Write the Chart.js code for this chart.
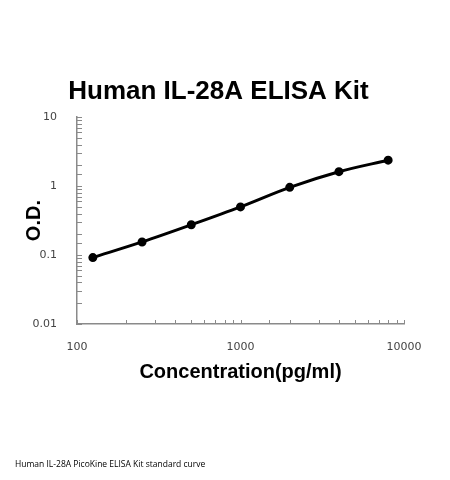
<!DOCTYPE html>
<html>
<head>
<meta charset="utf-8">
<script src="https://cdn.jsdelivr.net/npm/chart.js@4"></script>
<style>
  html, body { margin: 0; padding: 0; background: #fff; }
  #wrap { position: relative; width: 450px; height: 480px; }
  #note {
    position: absolute; left: 15px; top: 458px;
    font-family: "Open Sans", sans-serif; font-size: 8.5px; color: #000;
    white-space: nowrap;
  }
</style>
</head>
<body>
<div id="wrap">
  <canvas id="curve" width="450" height="480"></canvas>
  <div id="note">Human IL-28A PicoKine ELISA Kit standard curve</div>
</div>
<script>
// standard curve points
const concentrations = [125, 250, 500, 1000, 2000, 4000, 8000];
const odValues = [0.092, 0.155, 0.275, 0.50, 0.96, 1.62, 2.38];

// labelled ticks
const xTickLabels = [100, 1000, 10000];
const yTickLabels = [0.01, 0.1, 1, 10];

const isLabelled = (v, list) => list.some((t) => Math.abs(Math.log10(v) - Math.log10(t)) < 1e-6);

const tickFont = { family: "DejaVu Sans", size: 11 };
const axisColor = "#8a8a8a";

// tick marks point into the plot, so draw them by hand
const innerTicks = {
    id: "innerTicks",
    afterDraw(chart) {
        const ctx = chart.ctx;
        const xs = chart.scales.x;
        const ys = chart.scales.y;
        ctx.save();
        ctx.strokeStyle = axisColor;
        ctx.lineWidth = 1;
        ctx.beginPath();
        ys.ticks.forEach((t) => {
            const py = Math.round(ys.getPixelForValue(t.value)) + 0.5;
            ctx.moveTo(xs.left, py);
            ctx.lineTo(xs.left + 5, py);
        });
        xs.ticks.forEach((t) => {
            const px = Math.round(xs.getPixelForValue(t.value)) + 0.5;
            ctx.moveTo(px, ys.bottom);
            ctx.lineTo(px, ys.bottom - 4);
        });
        ctx.stroke();
        ctx.restore();
    },
};

const data = {
    datasets: [
        {
            data: concentrations.map((c, i) => ({ x: c, y: odValues[i] })),
            borderColor: "#000",
            backgroundColor: "#000",
            borderWidth: 3,
            pointRadius: 3,
            pointBackgroundColor: "#000",
            cubicInterpolationMode: "monotone",
            fill: false,
        },
    ],
};

const config = {
    type: "line",
    data,
    options: {
        responsive: false,
        animation: false,
        layout: {
            padding: { top: 76, left: 22, right: 35, bottom: 96 },
        },
        scales: {
            x: {
                type: "logarithmic",
                min: 100,
                max: 10000,
                grid: { display: false, drawTicks: false },
                border: { color: axisColor, width: 1.5 },
                afterFit: (scale) => {
                    scale.height = 60;
                    scale.paddingRight = 46;
                },
                ticks: {
                    autoSkip: false,
                    maxRotation: 0,
                    padding: 17,
                    color: "#444",
                    font: tickFont,
                    callback: (v) => (isLabelled(v, xTickLabels) ? String(v) : ""),
                },
                title: {
                    display: true,
                    text: "Concentration(pg/ml)",
                    color: "#000",
                    font: { family: "Liberation Sans", size: 20, weight: "bold" },
                    padding: { top: 6, bottom: 0 },
                },
            },
            y: {
                type: "logarithmic",
                min: 0.01,
                max: 10,
                grid: { display: false, drawTicks: false },
                border: { color: axisColor, width: 1.5 },
                afterFit: (scale) => {
                    scale.width = 55;
                },
                ticks: {
                    autoSkip: false,
                    padding: 20,
                    color: "#444",
                    font: tickFont,
                    callback: (v) => (isLabelled(v, yTickLabels) ? String(v) : ""),
                },
                title: {
                    display: true,
                    text: "O.D.",
                    color: "#000",
                    font: { family: "Liberation Sans", size: 20, weight: "bold" },
                    padding: { top: 0, bottom: 0 },
                },
            },
        },
        plugins: {
            legend: { display: false },
            tooltip: { enabled: false },
            title: {
                display: true,
                text: "Human IL-28A ELISA Kit",
                color: "#000",
                font: { family: "Liberation Sans", size: 26, weight: "bold" },
                padding: { top: 0, bottom: 10 },
            },
        },
    },
    plugins: [innerTicks],
};

const curveChart = new Chart(document.getElementById("curve"), config);
</script>
</body>
</html>
